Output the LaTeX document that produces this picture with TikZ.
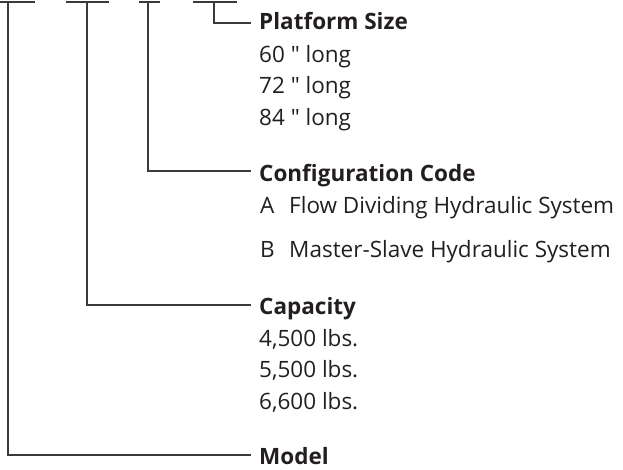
\documentclass[tikz,border=0pt]{standalone}
\usepackage{fontspec}
\newfontfamily\ops{Open Sans}
\definecolor{ln}{HTML}{3A3A3A}
\definecolor{tx}{HTML}{231F20}
\begin{document}
\begin{tikzpicture}[x=1pt,y=-1pt,
  lead/.style={draw=ln,line width=1.2pt},
  lbl/.style={anchor=base west,inner sep=0pt,text=tx,font=\ops\fontsize{22.5}{22.5}\selectfont},
  head/.style={lbl,font=\ops\bfseries\fontsize{22.5}{22.5}\selectfont}]
\useasboundingbox (0,0) rectangle (623,469);
% blanks
\coordinate (b1a) at (0,2);   \coordinate (b1b) at (35,2);
\coordinate (b2a) at (66,2);  \coordinate (b2b) at (109,2);
\coordinate (b3a) at (139,2); \coordinate (b3b) at (160,2);
\coordinate (b4a) at (193,2); \coordinate (b4b) at (237,2);
\draw[lead] (b1a) -- (b1b);
\draw[lead] (b2a) -- (b2b);
\draw[lead] (b3a) -- (b3b);
\draw[lead] (b4a) -- (b4b);
\coordinate (t1) at (8,2);
\coordinate (t2) at (87,2);
\coordinate (t3) at (148,2);
\coordinate (t4) at (214,2);
% ends
\coordinate (e1) at (251,455);
\coordinate (e2) at (251,305);
\coordinate (e3) at (251,171);
\coordinate (e4) at (251,23);
\draw[lead] (t1) |- (e1);
\draw[lead] (t2) |- (e2);
\draw[lead] (t3) |- (e3);
\draw[lead] (t4) |- (e4);
% texts
\node[head] (ps) at (259,29) {Platform Size};
\node[lbl] (p1) at (259,62) {60 " long};
\node[lbl] (p2) at (259,93) {72 " long};
\node[lbl] (p3) at (259,125) {84 " long};
\node[head] (cc) at (259,181) {Configuration Code};
\node[lbl] (ca) at (260,213) {A};
\node[lbl] (cat) at (289,213) {Flow Dividing Hydraulic System};
\node[lbl] (cb) at (260,257) {B};
\node[lbl] (cbt) at (289,257) {Master-Slave Hydraulic System};
\node[head] (cap) at (259,314) {Capacity};
\node[lbl] (c1) at (259,346) {4,500 lbs.};
\node[lbl] (c2) at (259,377) {5,500 lbs.};
\node[lbl] (c3) at (259,409) {6,600 lbs.};
\node[head] (mod) at (259,464) {Model};
\end{tikzpicture}
\end{document}
